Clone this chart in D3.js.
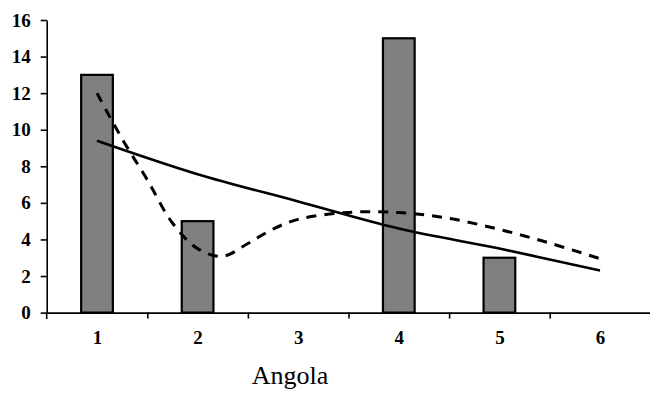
<!DOCTYPE html>
<html>
<head>
<meta charset="utf-8">
<script src="https://cdn.jsdelivr.net/npm/d3@7"></script>
<style>
  html, body { margin: 0; padding: 0; background: #fff; }
  svg { display: block; }
  text { font-family: "Liberation Serif", "Times New Roman", serif; fill: #000; }
</style>
</head>
<body>
<svg id="chart" width="650" height="393"></svg>
<script>
// Categories along the x axis and the y tick values
const categories = [1, 2, 3, 4, 5, 6];
const yTicks = [0, 2, 4, 6, 8, 10, 12, 14, 16];

// Bar heights per category (null = no bar)
const barValues = [13, 5, null, 15, 3, null];

// Solid trend line, one value per category
const trendValues = [9.4, 7.57, 6.08, 4.6, 3.5, 2.3];

// Dashed smooth curve, sampled along the category axis
const curvePositions = [1, 1.25, 1.5, 1.75, 2, 2.25, 2.5, 2.75, 3, 3.5, 4, 4.5, 5, 5.5, 6];
const curveValues = [12.0, 9.5, 7.26, 4.9, 3.5, 3.08, 3.78, 4.57, 5.1, 5.48, 5.47, 5.15, 4.55, 3.8, 2.95];

const xTitle = "Angola";

const svg = d3.select("#chart");

const x = d3.scaleLinear().domain([0.5, 6.5]).range([46.7, 650.3]);
const y = d3.scaleLinear().domain([0, 16]).range([312.6, 20]);
const barWidth = (x(2) - x(1)) * 0.315;

// Bars
svg.append("g")
  .selectAll("rect")
  .data(categories.map((c, i) => ({ c, v: barValues[i] })).filter(d => d.v != null))
  .join("rect")
  .attr("x", d => x(d.c) - barWidth / 2)
  .attr("y", d => y(d.v))
  .attr("width", barWidth)
  .attr("height", d => y(0) - y(d.v))
  .attr("fill", "#808080")
  .attr("stroke", "#000")
  .attr("stroke-width", 2.2);

// Y axis
const yAxis = svg.append("g")
  .attr("transform", `translate(${x(0.5)},0)`)
  .call(d3.axisLeft(y).tickValues(yTicks).tickSize(6).tickSizeOuter(0).tickPadding(10));
yAxis.select(".domain").attr("stroke", "#000").attr("stroke-width", 1.6);
yAxis.selectAll(".tick line").attr("stroke", "#000").attr("stroke-width", 1.6);
yAxis.selectAll(".tick text")
  .attr("font-family", "Liberation Serif, Times New Roman, serif")
  .attr("font-weight", "bold")
  .attr("font-size", 19);
// short extension of the y axis below the baseline
yAxis.append("line")
  .attr("x1", 0).attr("x2", 0)
  .attr("y1", y(0)).attr("y2", y(0) + 6.5)
  .attr("stroke", "#000").attr("stroke-width", 1.6);

// X axis: boundary ticks between categories
const xAxis = svg.append("g")
  .attr("transform", `translate(0,${y(0)})`)
  .call(d3.axisBottom(x)
    .tickValues(categories.slice(0, -1).map(c => c + 0.5))
    .tickSize(6).tickSizeOuter(0).tickFormat(""));
xAxis.select(".domain").attr("stroke", "#000").attr("stroke-width", 1.6);
xAxis.selectAll(".tick line").attr("stroke", "#000").attr("stroke-width", 1.6);

// X axis: category labels
const xLabels = svg.append("g")
  .attr("transform", `translate(0,${y(0)})`)
  .call(d3.axisBottom(x).tickValues(categories).tickSize(0).tickPadding(18).tickFormat(d3.format("d")));
xLabels.select(".domain").remove();
xLabels.selectAll(".tick text")
  .attr("font-family", "Liberation Serif, Times New Roman, serif")
  .attr("font-weight", "bold")
  .attr("font-size", 19);

// Solid trend line
svg.append("path")
  .datum(categories.map((c, i) => [c, trendValues[i]]))
  .attr("fill", "none")
  .attr("stroke", "#000")
  .attr("stroke-width", 2.6)
  .attr("d", d3.line().x(d => x(d[0])).y(d => y(d[1])).curve(d3.curveCatmullRom));

// Dashed smooth curve
svg.append("path")
  .datum(curvePositions.map((p, i) => [p, curveValues[i]]))
  .attr("fill", "none")
  .attr("stroke", "#000")
  .attr("stroke-width", 3)
  .attr("stroke-dasharray", "10,8")
  .attr("d", d3.line().x(d => x(d[0])).y(d => y(d[1])).curve(d3.curveCatmullRom));

// Axis title
svg.append("text")
  .attr("x", 290)
  .attr("y", 384)
  .attr("text-anchor", "middle")
  .attr("font-size", 26)
  .text(xTitle);
</script>
</body>
</html>
